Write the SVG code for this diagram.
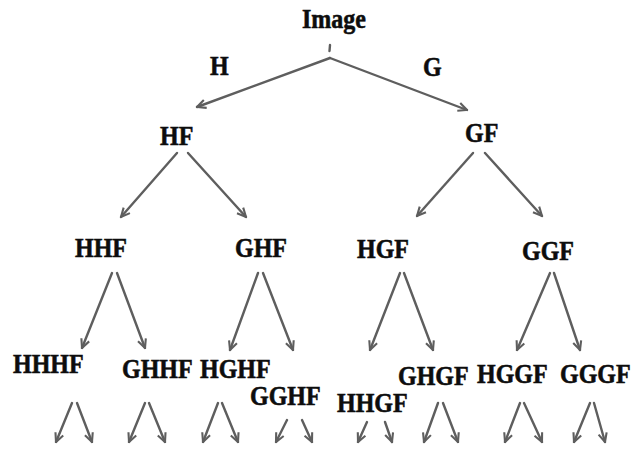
<svg xmlns="http://www.w3.org/2000/svg" width="642" height="450" viewBox="0 0 642 450">
  <defs>
    <style>
      .lbl { font-family: "Liberation Serif", "Times New Roman", serif; font-weight: bold; font-size: 24px; fill: #0d0d0d; stroke: #0d0d0d; stroke-width: 0.5; }
      .edge { stroke: #5e5e5e; stroke-width: 2.4; fill: none; stroke-linecap: round; }
    </style>
    <marker id="arrow" viewBox="0 0 10 10" refX="9" refY="5" markerWidth="11" markerHeight="11" markerUnits="userSpaceOnUse" orient="auto">
      <path d="M1,1.2 L9,5 L1,8.8" fill="none" stroke="#5e5e5e" stroke-width="1.9"/>
    </marker>
  </defs>
  <rect width="642" height="450" fill="#fff"/>

  <g id="connectors">
    <line class="edge" x1="330" y1="45" x2="329.5" y2="51" stroke-width="1.6"/>
    <line class="edge" x1="330" y1="58" x2="197" y2="107" marker-end="url(#arrow)"/>
    <line class="edge" x1="330" y1="58" x2="467" y2="110" marker-end="url(#arrow)"/>

    <line class="edge" x1="177" y1="153" x2="121" y2="217" marker-end="url(#arrow)"/>
    <line class="edge" x1="188" y1="153" x2="246" y2="217" marker-end="url(#arrow)"/>
    <line class="edge" x1="473" y1="153" x2="417" y2="216" marker-end="url(#arrow)"/>
    <line class="edge" x1="485" y1="153" x2="542" y2="216" marker-end="url(#arrow)"/>

    <line class="edge" x1="112" y1="273" x2="82" y2="348" marker-end="url(#arrow)"/>
    <line class="edge" x1="117" y1="273" x2="145" y2="348" marker-end="url(#arrow)"/>
    <line class="edge" x1="258" y1="273" x2="230" y2="350" marker-end="url(#arrow)"/>
    <line class="edge" x1="263" y1="273" x2="293" y2="350" marker-end="url(#arrow)"/>
    <line class="edge" x1="400" y1="273" x2="370" y2="350" marker-end="url(#arrow)"/>
    <line class="edge" x1="404" y1="273" x2="433" y2="350" marker-end="url(#arrow)"/>
    <line class="edge" x1="550" y1="273" x2="517" y2="350" marker-end="url(#arrow)"/>
    <line class="edge" x1="554" y1="273" x2="580" y2="350" marker-end="url(#arrow)"/>

    <line class="edge" x1="72" y1="403" x2="56" y2="442" marker-end="url(#arrow)"/>
    <line class="edge" x1="77" y1="403" x2="92" y2="442" marker-end="url(#arrow)"/>
    <line class="edge" x1="145" y1="403" x2="129" y2="442" marker-end="url(#arrow)"/>
    <line class="edge" x1="149" y1="403" x2="165" y2="442" marker-end="url(#arrow)"/>
    <line class="edge" x1="218" y1="403" x2="203" y2="442" marker-end="url(#arrow)"/>
    <line class="edge" x1="222" y1="403" x2="238" y2="442" marker-end="url(#arrow)"/>
    <line class="edge" x1="287" y1="420" x2="276" y2="442" marker-end="url(#arrow)"/>
    <line class="edge" x1="302" y1="420" x2="312" y2="442" marker-end="url(#arrow)"/>
    <line class="edge" x1="367" y1="422" x2="358" y2="442" marker-end="url(#arrow)"/>
    <line class="edge" x1="385" y1="422" x2="392" y2="442" marker-end="url(#arrow)"/>
    <line class="edge" x1="438" y1="403" x2="424" y2="442" marker-end="url(#arrow)"/>
    <line class="edge" x1="443" y1="403" x2="458" y2="442" marker-end="url(#arrow)"/>
    <line class="edge" x1="520" y1="403" x2="505" y2="442" marker-end="url(#arrow)"/>
    <line class="edge" x1="524" y1="403" x2="542" y2="442" marker-end="url(#arrow)"/>
    <line class="edge" x1="590" y1="403" x2="574" y2="442" marker-end="url(#arrow)"/>
    <line class="edge" x1="594" y1="403" x2="605" y2="442" marker-end="url(#arrow)"/>
  </g>

  <!-- labels are set slightly taller than wide: scale(1,1.12) at each baseline -->
  <g id="edge-labels">
    <text class="lbl" transform="translate(210,75) scale(1,1.12)">H</text>
    <text class="lbl" transform="translate(423,76) scale(1,1.12)">G</text>
  </g>

  <g id="node-image"><text class="lbl" transform="translate(302,28) scale(1,1.12)">Image</text></g>
  <g id="node-hf"><text class="lbl" transform="translate(160,145) scale(1,1.12)">HF</text></g>
  <g id="node-gf"><text class="lbl" transform="translate(465,142) scale(1,1.12)">GF</text></g>

  <g id="node-hhf"><text class="lbl" transform="translate(75,257) scale(1,1.12)">HHF</text></g>
  <g id="node-ghf"><text class="lbl" transform="translate(235,257) scale(1,1.12)">GHF</text></g>
  <g id="node-hgf"><text class="lbl" transform="translate(357,258) scale(1,1.12)">HGF</text></g>
  <g id="node-ggf"><text class="lbl" transform="translate(522,260) scale(1,1.12)">GGF</text></g>

  <g id="node-hhhf"><text class="lbl" transform="translate(13,373) scale(1,1.12)">HHHF</text></g>
  <g id="node-ghhf"><text class="lbl" transform="translate(122,378) scale(1,1.12)">GHHF</text></g>
  <g id="node-hghf"><text class="lbl" transform="translate(200,378) scale(1,1.12)">HGHF</text></g>
  <g id="node-gghf"><text class="lbl" transform="translate(250,405) scale(1,1.12)">GGHF</text></g>
  <g id="node-hhgf"><text class="lbl" transform="translate(337,412) scale(1,1.12)">HHGF</text></g>
  <g id="node-ghgf"><text class="lbl" transform="translate(398,385) scale(1,1.12)">GHGF</text></g>
  <g id="node-hggf"><text class="lbl" transform="translate(477,383) scale(1,1.12)">HGGF</text></g>
  <g id="node-gggf"><text class="lbl" transform="translate(560,383) scale(1,1.12)">GGGF</text></g>
</svg>
